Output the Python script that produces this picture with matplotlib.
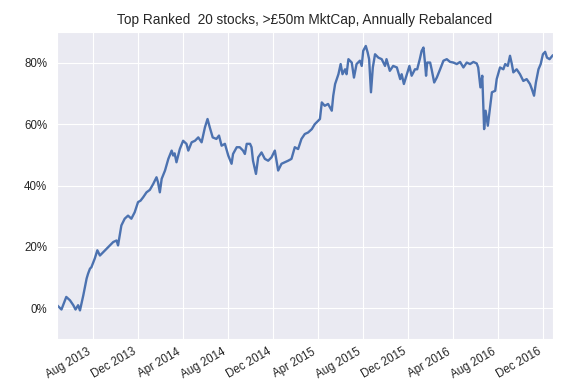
import numpy as np
import pandas as pd
import matplotlib
matplotlib.use("Agg")
import matplotlib.pyplot as plt
import matplotlib.dates as mdates
from matplotlib.ticker import PercentFormatter
import seaborn as sns

# cumulative return of the portfolio (%)
dates = [
    "2013-04-26", "2013-05-08", "2013-05-21", "2013-05-31", "2013-06-09", "2013-06-15",
    "2013-06-22", "2013-06-27", "2013-07-06", "2013-07-15", "2013-07-19", "2013-07-24",
    "2013-07-28", "2013-08-06", "2013-08-13", "2013-08-20", "2013-08-29", "2013-09-07",
    "2013-09-16", "2013-09-25", "2013-10-04", "2013-10-08", "2013-10-17", "2013-10-26",
    "2013-11-04", "2013-11-13", "2013-11-22", "2013-12-01", "2013-12-08", "2013-12-15",
    "2013-12-24", "2014-01-02", "2014-01-11", "2014-01-20", "2014-01-24", "2014-01-29",
    "2014-02-03", "2014-02-12", "2014-02-21", "2014-03-02", "2014-03-06", "2014-03-10",
    "2014-03-15", "2014-03-24", "2014-04-02", "2014-04-11", "2014-04-16", "2014-04-25",
    "2014-05-04", "2014-05-13", "2014-05-22", "2014-05-31", "2014-06-07", "2014-06-13",
    "2014-06-21", "2014-07-01", "2014-07-08", "2014-07-15", "2014-07-24", "2014-08-02",
    "2014-08-11", "2014-08-15", "2014-08-25", "2014-09-02", "2014-09-11", "2014-09-16",
    "2014-09-21", "2014-09-30", "2014-10-04", "2014-10-08", "2014-10-16", "2014-10-22",
    "2014-10-31", "2014-11-09", "2014-11-18", "2014-11-27", "2014-12-06", "2014-12-15",
    "2014-12-24", "2015-01-02", "2015-01-11", "2015-01-20", "2015-01-29", "2015-02-07",
    "2015-02-16", "2015-02-25", "2015-03-06", "2015-03-16", "2015-03-24", "2015-04-02",
    "2015-04-07", "2015-04-12", "2015-04-20", "2015-04-29", "2015-05-09", "2015-05-13",
    "2015-05-18", "2015-05-27", "2015-06-02", "2015-06-07", "2015-06-14", "2015-06-18",
    "2015-06-23", "2015-07-02", "2015-07-08", "2015-07-15", "2015-07-24", "2015-07-29",
    "2015-08-02", "2015-08-09", "2015-08-14", "2015-08-18", "2015-08-23", "2015-08-28",
    "2015-09-03", "2015-09-12", "2015-09-21", "2015-09-30", "2015-10-04", "2015-10-13",
    "2015-10-22", "2015-11-01", "2015-11-10", "2015-11-14", "2015-11-20", "2015-11-28",
    "2015-12-05", "2015-12-11", "2015-12-20", "2015-12-26", "2016-01-02", "2016-01-07",
    "2016-01-12", "2016-01-16", "2016-01-19", "2016-01-22", "2016-01-30", "2016-02-03",
    "2016-02-10", "2016-02-17", "2016-02-26", "2016-03-06", "2016-03-15", "2016-03-24",
    "2016-04-02", "2016-04-11", "2016-04-20", "2016-04-29", "2016-05-08", "2016-05-17",
    "2016-05-26", "2016-06-04", "2016-06-08", "2016-06-14", "2016-06-19", "2016-06-24",
    "2016-06-28", "2016-07-04", "2016-07-10", "2016-07-15", "2016-07-24", "2016-07-28",
    "2016-08-06", "2016-08-15", "2016-08-20", "2016-08-27", "2016-09-02", "2016-09-07",
    "2016-09-11", "2016-09-20", "2016-09-29", "2016-10-08", "2016-10-17", "2016-10-26",
    "2016-10-31", "2016-11-06", "2016-11-11", "2016-11-18", "2016-11-24", "2016-11-30",
    "2016-12-06", "2016-12-11", "2016-12-18", "2016-12-27",
]
returns = [
    1.0, -0.4, 3.7, 2.6, 1.0, -0.4,
    1.0, -0.7, 4.2, 9.7, 11.3, 12.9,
    13.4, 16.2, 18.9, 17.2, 18.3, 19.4,
    20.5, 21.6, 22.1, 20.5, 27.0, 29.2,
    30.2, 29.2, 31.3, 34.6, 35.1, 36.2,
    37.8, 38.6, 40.5, 42.7, 41.1, 37.8,
    42.2, 44.9, 48.7, 51.4, 49.8, 50.5,
    47.6, 51.9, 54.6, 53.6, 51.4, 54.1,
    54.6, 55.7, 54.1, 59.0, 61.7, 59.0,
    55.7, 55.2, 56.3, 53.0, 53.6, 49.8,
    47.1, 50.3, 52.5, 52.5, 51.4, 50.3,
    53.6, 53.6, 52.5, 48.1, 43.8, 49.2,
    50.8, 48.7, 48.1, 49.2, 51.4, 44.9,
    47.1, 47.6, 48.1, 48.7, 52.5, 51.9,
    55.2, 56.8, 57.3, 58.4, 60.0, 61.1,
    61.7, 67.1, 66.0, 66.6, 64.4, 69.3,
    73.1, 76.3, 79.6, 76.3, 77.9, 76.3,
    81.2, 80.1, 75.2, 79.6, 80.7, 79.0,
    83.9, 85.5, 83.4, 81.2, 70.4, 78.5,
    82.8, 81.7, 81.2, 79.0, 81.2, 77.4,
    79.0, 78.5, 74.7, 76.3, 73.1, 76.3,
    79.0, 75.8, 77.9, 77.9, 81.2, 83.9,
    85.0, 80.1, 75.8, 80.1, 80.1, 77.9,
    73.6, 75.2, 77.9, 80.7, 81.2, 80.3,
    80.1, 79.6, 80.3, 78.5, 80.1, 79.6,
    80.3, 79.8, 78.5, 72.0, 75.8, 58.4,
    64.4, 59.5, 65.5, 70.4, 70.9, 74.7,
    78.5, 77.9, 79.6, 79.0, 82.3, 79.6,
    76.9, 77.9, 76.3, 74.1, 74.7, 73.1,
    71.5, 69.3, 73.6, 77.9, 79.6, 82.8,
    83.6, 81.7, 81.2, 82.5,
]

title = "Top Ranked  20 stocks, >£50m MktCap, Annually Rebalanced"

sns.set_style("darkgrid")
plt.rcParams['font.family'] = ['Liberation Sans', 'DejaVu Sans']

series = pd.Series(returns, index=pd.to_datetime(dates))

fig = plt.figure(figsize=(5.82, 3.83), dpi=100)
ax = fig.add_axes([0.098, 0.115, 0.852, 0.801])

ax.plot(series.index, series.values, color="#4C72B0", lw=1.7)

ax.set_xlim(series.index[0], series.index[-1])
ax.set_ylim(-10, 90)
ax.set_yticks([0, 20, 40, 60, 80])
ax.yaxis.set_major_formatter(PercentFormatter(100, decimals=0))

ax.xaxis.set_major_locator(mdates.MonthLocator(bymonth=[4, 8, 12]))
ax.xaxis.set_major_formatter(mdates.DateFormatter("%b %Y"))
for lbl in ax.get_xticklabels():
    lbl.set_rotation(30)
    lbl.set_ha("right")

ax.tick_params(labelsize=8.3, length=0)
ax.tick_params(axis="x", pad=5)
ax.tick_params(axis="y", pad=7)
ax.set_title(title, fontsize=9.8, pad=6)

fig.savefig("out.png", dpi=100)
